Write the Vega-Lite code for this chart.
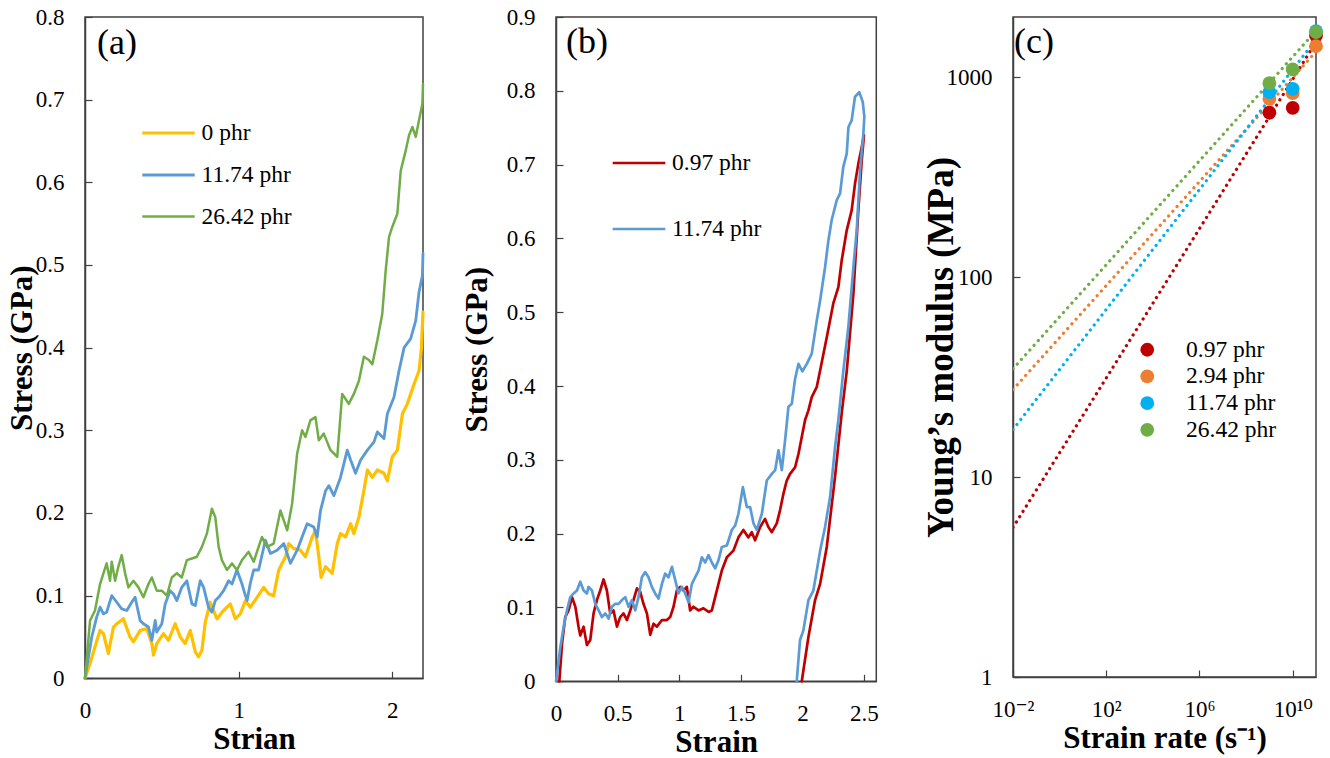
{
  "$schema": "https://vega.github.io/schema/vega-lite/v6.json",
  "background": "white",
  "padding": {"left": 5, "top": 5, "right": 5, "bottom": 5},
  "config": {
    "font": "Liberation Serif",
    "view": {"stroke": "#404040", "strokeWidth": 1.5},
    "axis": {"grid": false, "domainColor": "#404040", "domainWidth": 1.5, "tickColor": "#404040", "tickWidth": 1.2, "tickSize": -7, "labelFont": "Liberation Serif", "labelFontSize": 23, "labelColor": "#000", "labelPadding": 28, "labelFlush": false, "labelOverlap": false, "titleFont": "Liberation Serif", "titleFontSize": 31, "titleFontWeight": "bold", "titleColor": "#000"},
    "axisX": {"titlePadding": 2},
    "legend": {"labelFont": "Liberation Serif", "labelFontSize": 23.5, "labelColor": "#000"},
    "title": {"font": "Liberation Serif", "fontSize": 36, "fontWeight": "normal", "anchor": "start", "color": "#000", "baseline": "middle", "frame": "group"}
  },
  "datasets": {
    "a": [
      {"s":"0 phr","x":0,"y":0},{"s":"0 phr","x":0.033,"y":0.018},{"s":"0 phr","x":0.076,"y":0.045},{"s":"0 phr","x":0.098,"y":0.058},{"s":"0 phr","x":0.12,"y":0.054},{"s":"0 phr","x":0.152,"y":0.03},{"s":"0 phr","x":0.185,"y":0.062},{"s":"0 phr","x":0.207,"y":0.066},{"s":"0 phr","x":0.25,"y":0.072},{"s":"0 phr","x":0.293,"y":0.05},{"s":"0 phr","x":0.315,"y":0.044},{"s":"0 phr","x":0.359,"y":0.058},{"s":"0 phr","x":0.402,"y":0.06},{"s":"0 phr","x":0.435,"y":0.042},{"s":"0 phr","x":0.446,"y":0.028},{"s":"0 phr","x":0.467,"y":0.042},{"s":"0 phr","x":0.511,"y":0.054},{"s":"0 phr","x":0.543,"y":0.046},{"s":"0 phr","x":0.587,"y":0.066},{"s":"0 phr","x":0.62,"y":0.05},{"s":"0 phr","x":0.652,"y":0.042},{"s":"0 phr","x":0.685,"y":0.058},{"s":"0 phr","x":0.718,"y":0.032},{"s":"0 phr","x":0.739,"y":0.026},{"s":"0 phr","x":0.761,"y":0.034},{"s":"0 phr","x":0.783,"y":0.068},{"s":"0 phr","x":0.815,"y":0.092},{"s":"0 phr","x":0.859,"y":0.072},{"s":"0 phr","x":0.902,"y":0.082},{"s":"0 phr","x":0.946,"y":0.09},{"s":"0 phr","x":0.978,"y":0.072},{"s":"0 phr","x":1.011,"y":0.078},{"s":"0 phr","x":1.044,"y":0.094},{"s":"0 phr","x":1.076,"y":0.086},{"s":"0 phr","x":1.12,"y":0.098},{"s":"0 phr","x":1.163,"y":0.11},{"s":"0 phr","x":1.196,"y":0.102},{"s":"0 phr","x":1.228,"y":0.1},{"s":"0 phr","x":1.261,"y":0.131},{"s":"0 phr","x":1.305,"y":0.147},{"s":"0 phr","x":1.326,"y":0.163},{"s":"0 phr","x":1.359,"y":0.157},{"s":"0 phr","x":1.402,"y":0.155},{"s":"0 phr","x":1.435,"y":0.147},{"s":"0 phr","x":1.479,"y":0.171},{"s":"0 phr","x":1.5,"y":0.179},{"s":"0 phr","x":1.522,"y":0.147},{"s":"0 phr","x":1.537,"y":0.122},{"s":"0 phr","x":1.566,"y":0.135},{"s":"0 phr","x":1.609,"y":0.127},{"s":"0 phr","x":1.642,"y":0.163},{"s":"0 phr","x":1.663,"y":0.175},{"s":"0 phr","x":1.696,"y":0.171},{"s":"0 phr","x":1.729,"y":0.187},{"s":"0 phr","x":1.75,"y":0.175},{"s":"0 phr","x":1.783,"y":0.195},{"s":"0 phr","x":1.815,"y":0.227},{"s":"0 phr","x":1.838,"y":0.252},{"s":"0 phr","x":1.87,"y":0.243},{"s":"0 phr","x":1.903,"y":0.252},{"s":"0 phr","x":1.946,"y":0.248},{"s":"0 phr","x":1.968,"y":0.239},{"s":"0 phr","x":2.0,"y":0.268},{"s":"0 phr","x":2.033,"y":0.276},{"s":"0 phr","x":2.066,"y":0.32},{"s":"0 phr","x":2.098,"y":0.332},{"s":"0 phr","x":2.142,"y":0.356},{"s":"0 phr","x":2.174,"y":0.372},{"s":"0 phr","x":2.19,"y":0.4},{"s":"0 phr","x":2.2,"y":0.443},
      {"s":"11.74 phr","x":0,"y":0},{"s":"11.74 phr","x":0.044,"y":0.05},{"s":"11.74 phr","x":0.076,"y":0.074},{"s":"11.74 phr","x":0.098,"y":0.086},{"s":"11.74 phr","x":0.12,"y":0.078},{"s":"11.74 phr","x":0.141,"y":0.08},{"s":"11.74 phr","x":0.174,"y":0.1},{"s":"11.74 phr","x":0.207,"y":0.092},{"s":"11.74 phr","x":0.239,"y":0.084},{"s":"11.74 phr","x":0.272,"y":0.082},{"s":"11.74 phr","x":0.304,"y":0.092},{"s":"11.74 phr","x":0.326,"y":0.098},{"s":"11.74 phr","x":0.359,"y":0.07},{"s":"11.74 phr","x":0.38,"y":0.066},{"s":"11.74 phr","x":0.413,"y":0.062},{"s":"11.74 phr","x":0.435,"y":0.046},{"s":"11.74 phr","x":0.457,"y":0.07},{"s":"11.74 phr","x":0.467,"y":0.056},{"s":"11.74 phr","x":0.5,"y":0.066},{"s":"11.74 phr","x":0.522,"y":0.09},{"s":"11.74 phr","x":0.554,"y":0.106},{"s":"11.74 phr","x":0.576,"y":0.102},{"s":"11.74 phr","x":0.598,"y":0.094},{"s":"11.74 phr","x":0.63,"y":0.11},{"s":"11.74 phr","x":0.663,"y":0.118},{"s":"11.74 phr","x":0.696,"y":0.09},{"s":"11.74 phr","x":0.718,"y":0.088},{"s":"11.74 phr","x":0.75,"y":0.118},{"s":"11.74 phr","x":0.772,"y":0.11},{"s":"11.74 phr","x":0.804,"y":0.086},{"s":"11.74 phr","x":0.826,"y":0.08},{"s":"11.74 phr","x":0.848,"y":0.094},{"s":"11.74 phr","x":0.87,"y":0.098},{"s":"11.74 phr","x":0.902,"y":0.106},{"s":"11.74 phr","x":0.935,"y":0.118},{"s":"11.74 phr","x":0.957,"y":0.114},{"s":"11.74 phr","x":0.989,"y":0.131},{"s":"11.74 phr","x":1.022,"y":0.114},{"s":"11.74 phr","x":1.044,"y":0.1},{"s":"11.74 phr","x":1.055,"y":0.094},{"s":"11.74 phr","x":1.076,"y":0.115},{"s":"11.74 phr","x":1.098,"y":0.131},{"s":"11.74 phr","x":1.13,"y":0.131},{"s":"11.74 phr","x":1.174,"y":0.167},{"s":"11.74 phr","x":1.207,"y":0.151},{"s":"11.74 phr","x":1.25,"y":0.155},{"s":"11.74 phr","x":1.294,"y":0.163},{"s":"11.74 phr","x":1.337,"y":0.139},{"s":"11.74 phr","x":1.381,"y":0.155},{"s":"11.74 phr","x":1.413,"y":0.171},{"s":"11.74 phr","x":1.446,"y":0.187},{"s":"11.74 phr","x":1.489,"y":0.183},{"s":"11.74 phr","x":1.511,"y":0.171},{"s":"11.74 phr","x":1.533,"y":0.203},{"s":"11.74 phr","x":1.566,"y":0.227},{"s":"11.74 phr","x":1.587,"y":0.233},{"s":"11.74 phr","x":1.62,"y":0.221},{"s":"11.74 phr","x":1.663,"y":0.243},{"s":"11.74 phr","x":1.707,"y":0.276},{"s":"11.74 phr","x":1.729,"y":0.264},{"s":"11.74 phr","x":1.761,"y":0.248},{"s":"11.74 phr","x":1.794,"y":0.264},{"s":"11.74 phr","x":1.838,"y":0.276},{"s":"11.74 phr","x":1.881,"y":0.286},{"s":"11.74 phr","x":1.903,"y":0.298},{"s":"11.74 phr","x":1.946,"y":0.29},{"s":"11.74 phr","x":1.968,"y":0.32},{"s":"11.74 phr","x":2.011,"y":0.34},{"s":"11.74 phr","x":2.044,"y":0.372},{"s":"11.74 phr","x":2.077,"y":0.4},{"s":"11.74 phr","x":2.12,"y":0.411},{"s":"11.74 phr","x":2.153,"y":0.433},{"s":"11.74 phr","x":2.174,"y":0.467},{"s":"11.74 phr","x":2.196,"y":0.487},{"s":"11.74 phr","x":2.2,"y":0.514},
      {"s":"26.42 phr","x":0,"y":0},{"s":"26.42 phr","x":0.033,"y":0.07},{"s":"26.42 phr","x":0.065,"y":0.082},{"s":"26.42 phr","x":0.098,"y":0.114},{"s":"26.42 phr","x":0.12,"y":0.127},{"s":"26.42 phr","x":0.141,"y":0.139},{"s":"26.42 phr","x":0.163,"y":0.118},{"s":"26.42 phr","x":0.174,"y":0.141},{"s":"26.42 phr","x":0.196,"y":0.118},{"s":"26.42 phr","x":0.217,"y":0.135},{"s":"26.42 phr","x":0.239,"y":0.149},{"s":"26.42 phr","x":0.261,"y":0.127},{"s":"26.42 phr","x":0.283,"y":0.11},{"s":"26.42 phr","x":0.315,"y":0.118},{"s":"26.42 phr","x":0.348,"y":0.11},{"s":"26.42 phr","x":0.38,"y":0.098},{"s":"26.42 phr","x":0.413,"y":0.114},{"s":"26.42 phr","x":0.435,"y":0.122},{"s":"26.42 phr","x":0.467,"y":0.106},{"s":"26.42 phr","x":0.5,"y":0.106},{"s":"26.42 phr","x":0.533,"y":0.1},{"s":"26.42 phr","x":0.565,"y":0.122},{"s":"26.42 phr","x":0.598,"y":0.127},{"s":"26.42 phr","x":0.63,"y":0.122},{"s":"26.42 phr","x":0.663,"y":0.143},{"s":"26.42 phr","x":0.696,"y":0.145},{"s":"26.42 phr","x":0.728,"y":0.147},{"s":"26.42 phr","x":0.761,"y":0.159},{"s":"26.42 phr","x":0.793,"y":0.175},{"s":"26.42 phr","x":0.826,"y":0.205},{"s":"26.42 phr","x":0.848,"y":0.195},{"s":"26.42 phr","x":0.87,"y":0.159},{"s":"26.42 phr","x":0.891,"y":0.143},{"s":"26.42 phr","x":0.924,"y":0.131},{"s":"26.42 phr","x":0.957,"y":0.139},{"s":"26.42 phr","x":0.989,"y":0.131},{"s":"26.42 phr","x":1.022,"y":0.143},{"s":"26.42 phr","x":1.065,"y":0.153},{"s":"26.42 phr","x":1.098,"y":0.141},{"s":"26.42 phr","x":1.13,"y":0.159},{"s":"26.42 phr","x":1.152,"y":0.171},{"s":"26.42 phr","x":1.185,"y":0.159},{"s":"26.42 phr","x":1.228,"y":0.163},{"s":"26.42 phr","x":1.272,"y":0.203},{"s":"26.42 phr","x":1.316,"y":0.179},{"s":"26.42 phr","x":1.348,"y":0.211},{"s":"26.42 phr","x":1.381,"y":0.272},{"s":"26.42 phr","x":1.413,"y":0.3},{"s":"26.42 phr","x":1.435,"y":0.292},{"s":"26.42 phr","x":1.467,"y":0.312},{"s":"26.42 phr","x":1.5,"y":0.316},{"s":"26.42 phr","x":1.522,"y":0.288},{"s":"26.42 phr","x":1.554,"y":0.296},{"s":"26.42 phr","x":1.598,"y":0.276},{"s":"26.42 phr","x":1.642,"y":0.268},{"s":"26.42 phr","x":1.674,"y":0.344},{"s":"26.42 phr","x":1.717,"y":0.332},{"s":"26.42 phr","x":1.75,"y":0.344},{"s":"26.42 phr","x":1.783,"y":0.36},{"s":"26.42 phr","x":1.815,"y":0.389},{"s":"26.42 phr","x":1.848,"y":0.385},{"s":"26.42 phr","x":1.87,"y":0.38},{"s":"26.42 phr","x":1.903,"y":0.409},{"s":"26.42 phr","x":1.935,"y":0.441},{"s":"26.42 phr","x":1.957,"y":0.493},{"s":"26.42 phr","x":1.979,"y":0.534},{"s":"26.42 phr","x":2.0,"y":0.546},{"s":"26.42 phr","x":2.033,"y":0.562},{"s":"26.42 phr","x":2.055,"y":0.614},{"s":"26.42 phr","x":2.087,"y":0.638},{"s":"26.42 phr","x":2.109,"y":0.657},{"s":"26.42 phr","x":2.131,"y":0.667},{"s":"26.42 phr","x":2.153,"y":0.655},{"s":"26.42 phr","x":2.174,"y":0.675},{"s":"26.42 phr","x":2.196,"y":0.695},{"s":"26.42 phr","x":2.2,"y":0.719}
    ],
    "b": [
      {"s":"0.97 phr","i":0,"x":0.027,"y":0},{"s":"0.97 phr","i":1,"x":0.049,"y":0.051},{"s":"0.97 phr","i":2,"x":0.075,"y":0.087},{"s":"0.97 phr","i":3,"x":0.102,"y":0.096},{"s":"0.97 phr","i":4,"x":0.13,"y":0.114},{"s":"0.97 phr","i":5,"x":0.157,"y":0.101},{"s":"0.97 phr","i":6,"x":0.183,"y":0.074},{"s":"0.97 phr","i":7,"x":0.197,"y":0.062},{"s":"0.97 phr","i":8,"x":0.224,"y":0.074},{"s":"0.97 phr","i":9,"x":0.251,"y":0.049},{"s":"0.97 phr","i":10,"x":0.278,"y":0.056},{"s":"0.97 phr","i":11,"x":0.305,"y":0.092},{"s":"0.97 phr","i":12,"x":0.332,"y":0.11},{"s":"0.97 phr","i":13,"x":0.359,"y":0.123},{"s":"0.97 phr","i":14,"x":0.386,"y":0.138},{"s":"0.97 phr","i":15,"x":0.413,"y":0.123},{"s":"0.97 phr","i":16,"x":0.44,"y":0.092},{"s":"0.97 phr","i":17,"x":0.467,"y":0.096},{"s":"0.97 phr","i":18,"x":0.495,"y":0.074},{"s":"0.97 phr","i":19,"x":0.521,"y":0.087},{"s":"0.97 phr","i":20,"x":0.548,"y":0.092},{"s":"0.97 phr","i":21,"x":0.576,"y":0.083},{"s":"0.97 phr","i":22,"x":0.603,"y":0.096},{"s":"0.97 phr","i":23,"x":0.629,"y":0.11},{"s":"0.97 phr","i":24,"x":0.657,"y":0.126},{"s":"0.97 phr","i":25,"x":0.684,"y":0.121},{"s":"0.97 phr","i":26,"x":0.71,"y":0.105},{"s":"0.97 phr","i":27,"x":0.738,"y":0.092},{"s":"0.97 phr","i":28,"x":0.765,"y":0.063},{"s":"0.97 phr","i":29,"x":0.792,"y":0.078},{"s":"0.97 phr","i":30,"x":0.819,"y":0.074},{"s":"0.97 phr","i":31,"x":0.86,"y":0.083},{"s":"0.97 phr","i":32,"x":0.9,"y":0.083},{"s":"0.97 phr","i":33,"x":0.927,"y":0.087},{"s":"0.97 phr","i":34,"x":0.954,"y":0.101},{"s":"0.97 phr","i":35,"x":0.981,"y":0.123},{"s":"0.97 phr","i":36,"x":1.008,"y":0.128},{"s":"0.97 phr","i":37,"x":1.035,"y":0.123},{"s":"0.97 phr","i":38,"x":1.062,"y":0.128},{"s":"0.97 phr","i":39,"x":1.089,"y":0.096},{"s":"0.97 phr","i":40,"x":1.116,"y":0.101},{"s":"0.97 phr","i":41,"x":1.157,"y":0.096},{"s":"0.97 phr","i":42,"x":1.197,"y":0.099},{"s":"0.97 phr","i":43,"x":1.238,"y":0.094},{"s":"0.97 phr","i":44,"x":1.265,"y":0.096},{"s":"0.97 phr","i":45,"x":1.292,"y":0.114},{"s":"0.97 phr","i":46,"x":1.319,"y":0.132},{"s":"0.97 phr","i":47,"x":1.346,"y":0.15},{"s":"0.97 phr","i":48,"x":1.387,"y":0.168},{"s":"0.97 phr","i":49,"x":1.44,"y":0.177},{"s":"0.97 phr","i":50,"x":1.481,"y":0.195},{"s":"0.97 phr","i":51,"x":1.521,"y":0.205},{"s":"0.97 phr","i":52,"x":1.562,"y":0.195},{"s":"0.97 phr","i":53,"x":1.589,"y":0.202},{"s":"0.97 phr","i":54,"x":1.616,"y":0.191},{"s":"0.97 phr","i":55,"x":1.657,"y":0.209},{"s":"0.97 phr","i":56,"x":1.697,"y":0.22},{"s":"0.97 phr","i":57,"x":1.724,"y":0.209},{"s":"0.97 phr","i":58,"x":1.752,"y":0.202},{"s":"0.97 phr","i":59,"x":1.792,"y":0.214},{"s":"0.97 phr","i":60,"x":1.819,"y":0.232},{"s":"0.97 phr","i":61,"x":1.846,"y":0.254},{"s":"0.97 phr","i":62,"x":1.873,"y":0.272},{"s":"0.97 phr","i":63,"x":1.9,"y":0.281},{"s":"0.97 phr","i":64,"x":1.941,"y":0.29},{"s":"0.97 phr","i":65,"x":1.968,"y":0.308},{"s":"0.97 phr","i":66,"x":1.995,"y":0.331},{"s":"0.97 phr","i":67,"x":2.022,"y":0.354},{"s":"0.97 phr","i":68,"x":2.049,"y":0.367},{"s":"0.97 phr","i":69,"x":2.076,"y":0.385},{"s":"0.97 phr","i":70,"x":2.117,"y":0.399},{"s":"0.97 phr","i":71,"x":2.144,"y":0.421},{"s":"0.97 phr","i":72,"x":2.198,"y":0.466},{"s":"0.97 phr","i":73,"x":2.251,"y":0.512},{"s":"0.97 phr","i":74,"x":2.292,"y":0.534},{"s":"0.97 phr","i":75,"x":2.319,"y":0.57},{"s":"0.97 phr","i":76,"x":2.36,"y":0.611},{"s":"0.97 phr","i":77,"x":2.4,"y":0.638},{"s":"0.97 phr","i":78,"x":2.427,"y":0.674},{"s":"0.97 phr","i":79,"x":2.454,"y":0.701},{"s":"0.97 phr","i":80,"x":2.482,"y":0.724},{"s":"0.97 phr","i":81,"x":2.5,"y":0.74},{"s":"0.97 phr","i":82,"x":2.482,"y":0.706},{"s":"0.97 phr","i":83,"x":2.454,"y":0.638},{"s":"0.97 phr","i":84,"x":2.414,"y":0.525},{"s":"0.97 phr","i":85,"x":2.36,"y":0.42},{"s":"0.97 phr","i":86,"x":2.319,"y":0.363},{"s":"0.97 phr","i":87,"x":2.265,"y":0.277},{"s":"0.97 phr","i":88,"x":2.198,"y":0.182},{"s":"0.97 phr","i":89,"x":2.144,"y":0.132},{"s":"0.97 phr","i":90,"x":2.103,"y":0.11},{"s":"0.97 phr","i":91,"x":2.049,"y":0.06},{"s":"0.97 phr","i":92,"x":1.995,"y":0},
      {"s":"11.74 phr","i":0,"x":0,"y":0},{"s":"11.74 phr","i":1,"x":0.035,"y":0.046},{"s":"11.74 phr","i":2,"x":0.062,"y":0.074},{"s":"11.74 phr","i":3,"x":0.089,"y":0.096},{"s":"11.74 phr","i":4,"x":0.116,"y":0.114},{"s":"11.74 phr","i":5,"x":0.143,"y":0.119},{"s":"11.74 phr","i":6,"x":0.17,"y":0.123},{"s":"11.74 phr","i":7,"x":0.197,"y":0.135},{"s":"11.74 phr","i":8,"x":0.224,"y":0.123},{"s":"11.74 phr","i":9,"x":0.251,"y":0.119},{"s":"11.74 phr","i":10,"x":0.264,"y":0.128},{"s":"11.74 phr","i":11,"x":0.292,"y":0.123},{"s":"11.74 phr","i":12,"x":0.319,"y":0.105},{"s":"11.74 phr","i":13,"x":0.346,"y":0.096},{"s":"11.74 phr","i":14,"x":0.373,"y":0.087},{"s":"11.74 phr","i":15,"x":0.4,"y":0.092},{"s":"11.74 phr","i":16,"x":0.427,"y":0.085},{"s":"11.74 phr","i":17,"x":0.454,"y":0.101},{"s":"11.74 phr","i":18,"x":0.481,"y":0.105},{"s":"11.74 phr","i":19,"x":0.508,"y":0.105},{"s":"11.74 phr","i":20,"x":0.535,"y":0.11},{"s":"11.74 phr","i":21,"x":0.562,"y":0.114},{"s":"11.74 phr","i":22,"x":0.589,"y":0.101},{"s":"11.74 phr","i":23,"x":0.616,"y":0.11},{"s":"11.74 phr","i":24,"x":0.643,"y":0.096},{"s":"11.74 phr","i":25,"x":0.67,"y":0.114},{"s":"11.74 phr","i":26,"x":0.697,"y":0.141},{"s":"11.74 phr","i":27,"x":0.724,"y":0.148},{"s":"11.74 phr","i":28,"x":0.751,"y":0.141},{"s":"11.74 phr","i":29,"x":0.778,"y":0.128},{"s":"11.74 phr","i":30,"x":0.805,"y":0.119},{"s":"11.74 phr","i":31,"x":0.832,"y":0.112},{"s":"11.74 phr","i":32,"x":0.86,"y":0.132},{"s":"11.74 phr","i":33,"x":0.886,"y":0.146},{"s":"11.74 phr","i":34,"x":0.913,"y":0.141},{"s":"11.74 phr","i":35,"x":0.941,"y":0.155},{"s":"11.74 phr","i":36,"x":0.968,"y":0.137},{"s":"11.74 phr","i":37,"x":0.994,"y":0.119},{"s":"11.74 phr","i":38,"x":1.022,"y":0.128},{"s":"11.74 phr","i":39,"x":1.049,"y":0.119},{"s":"11.74 phr","i":40,"x":1.076,"y":0.107},{"s":"11.74 phr","i":41,"x":1.103,"y":0.132},{"s":"11.74 phr","i":42,"x":1.13,"y":0.141},{"s":"11.74 phr","i":43,"x":1.157,"y":0.15},{"s":"11.74 phr","i":44,"x":1.184,"y":0.168},{"s":"11.74 phr","i":45,"x":1.211,"y":0.161},{"s":"11.74 phr","i":46,"x":1.238,"y":0.171},{"s":"11.74 phr","i":47,"x":1.265,"y":0.161},{"s":"11.74 phr","i":48,"x":1.292,"y":0.153},{"s":"11.74 phr","i":49,"x":1.319,"y":0.164},{"s":"11.74 phr","i":50,"x":1.346,"y":0.182},{"s":"11.74 phr","i":51,"x":1.387,"y":0.184},{"s":"11.74 phr","i":52,"x":1.427,"y":0.205},{"s":"11.74 phr","i":53,"x":1.454,"y":0.211},{"s":"11.74 phr","i":54,"x":1.481,"y":0.227},{"s":"11.74 phr","i":55,"x":1.517,"y":0.263},{"s":"11.74 phr","i":56,"x":1.549,"y":0.236},{"s":"11.74 phr","i":57,"x":1.576,"y":0.236},{"s":"11.74 phr","i":58,"x":1.603,"y":0.214},{"s":"11.74 phr","i":59,"x":1.63,"y":0.205},{"s":"11.74 phr","i":60,"x":1.671,"y":0.227},{"s":"11.74 phr","i":61,"x":1.711,"y":0.272},{"s":"11.74 phr","i":62,"x":1.752,"y":0.281},{"s":"11.74 phr","i":63,"x":1.779,"y":0.286},{"s":"11.74 phr","i":64,"x":1.806,"y":0.313},{"s":"11.74 phr","i":65,"x":1.833,"y":0.286},{"s":"11.74 phr","i":66,"x":1.86,"y":0.327},{"s":"11.74 phr","i":67,"x":1.887,"y":0.372},{"s":"11.74 phr","i":68,"x":1.914,"y":0.376},{"s":"11.74 phr","i":69,"x":1.941,"y":0.41},{"s":"11.74 phr","i":70,"x":1.968,"y":0.43},{"s":"11.74 phr","i":71,"x":2.0,"y":0.42},{"s":"11.74 phr","i":72,"x":2.036,"y":0.43},{"s":"11.74 phr","i":73,"x":2.076,"y":0.444},{"s":"11.74 phr","i":74,"x":2.117,"y":0.489},{"s":"11.74 phr","i":75,"x":2.144,"y":0.516},{"s":"11.74 phr","i":76,"x":2.184,"y":0.561},{"s":"11.74 phr","i":77,"x":2.211,"y":0.597},{"s":"11.74 phr","i":78,"x":2.238,"y":0.625},{"s":"11.74 phr","i":79,"x":2.279,"y":0.652},{"s":"11.74 phr","i":80,"x":2.306,"y":0.661},{"s":"11.74 phr","i":81,"x":2.332,"y":0.697},{"s":"11.74 phr","i":82,"x":2.36,"y":0.715},{"s":"11.74 phr","i":83,"x":2.374,"y":0.751},{"s":"11.74 phr","i":84,"x":2.4,"y":0.76},{"s":"11.74 phr","i":85,"x":2.427,"y":0.792},{"s":"11.74 phr","i":86,"x":2.462,"y":0.798},{"s":"11.74 phr","i":87,"x":2.49,"y":0.785},{"s":"11.74 phr","i":88,"x":2.503,"y":0.765},{"s":"11.74 phr","i":89,"x":2.495,"y":0.742},{"s":"11.74 phr","i":90,"x":2.468,"y":0.692},{"s":"11.74 phr","i":91,"x":2.441,"y":0.611},{"s":"11.74 phr","i":92,"x":2.414,"y":0.561},{"s":"11.74 phr","i":93,"x":2.373,"y":0.48},{"s":"11.74 phr","i":94,"x":2.332,"y":0.42},{"s":"11.74 phr","i":95,"x":2.292,"y":0.354},{"s":"11.74 phr","i":96,"x":2.265,"y":0.317},{"s":"11.74 phr","i":97,"x":2.225,"y":0.25},{"s":"11.74 phr","i":98,"x":2.184,"y":0.209},{"s":"11.74 phr","i":99,"x":2.144,"y":0.177},{"s":"11.74 phr","i":100,"x":2.117,"y":0.15},{"s":"11.74 phr","i":101,"x":2.089,"y":0.123},{"s":"11.74 phr","i":102,"x":2.049,"y":0.11},{"s":"11.74 phr","i":103,"x":2.008,"y":0.069},{"s":"11.74 phr","i":104,"x":1.981,"y":0.056},{"s":"11.74 phr","i":105,"x":1.954,"y":0}
    ],
    "cfit": [
      {"s":"0.97 phr","x":0.01,"y":5.6},{"s":"0.97 phr","x":1e11,"y":1500},
      {"s":"2.94 phr","x":0.01,"y":27.4},{"s":"2.94 phr","x":1e11,"y":1343},
      {"s":"11.74 phr","x":0.01,"y":17.3},{"s":"11.74 phr","x":1e11,"y":1542},
      {"s":"26.42 phr","x":0.01,"y":34.8},{"s":"26.42 phr","x":1e11,"y":1706}
    ],
    "cpts": [
      {"s":"0.97 phr","x":1e9,"y":664},{"s":"0.97 phr","x":1e10,"y":703},{"s":"0.97 phr","x":1e11,"y":1616},
      {"s":"2.94 phr","x":1e9,"y":780},{"s":"2.94 phr","x":1e10,"y":832},{"s":"2.94 phr","x":1e11,"y":1429},
      {"s":"11.74 phr","x":1e9,"y":841},{"s":"11.74 phr","x":1e10,"y":875},{"s":"11.74 phr","x":1e11,"y":1698},
      {"s":"26.42 phr","x":1e9,"y":933},{"s":"26.42 phr","x":1e10,"y":1093},{"s":"26.42 phr","x":1e11,"y":1679}
    ]
  },
  "bounds": "flush",
  "spacing": 133,
  "resolve": {"scale": {"color": "independent", "x": "independent", "y": "independent", "strokeWidth": "independent", "fill": "independent", "stroke": "independent"}, "legend": {"color": "independent", "strokeWidth": "independent", "fill": "independent", "stroke": "independent"}},
  "hconcat": [
    {
      "width": 338, "height": 661.3,
      "title": {"text": "(a)", "offset": -56, "dx": 12},
      "data": {"name": "a"},
      "mark": {"type": "line", "strokeJoin": "round", "strokeCap": "round"},
      "encoding": {
        "x": {"field": "x", "type": "quantitative", "scale": {"domain": [0, 2.2], "nice": false}, "axis": {"values": [0, 1, 2], "title": "Strian"}},
        "y": {"field": "y", "type": "quantitative", "scale": {"domain": [0, 0.8], "nice": false}, "axis": {"values": [0, 0.1, 0.2, 0.3, 0.4, 0.5, 0.6, 0.7, 0.8], "format": ".1~f", "title": "Stress (GPa)", "titlePadding": -3}},
        "color": {"field": "s", "type": "ordinal", "scale": {"domain": ["0 phr", "11.74 phr", "26.42 phr"], "range": ["#FFC000", "#5B9BD5", "#70AD47"]}, "legend": {"title": null, "orient": "none", "legendX": 55.5, "legendY": 88, "symbolType": "stroke", "symbolSize": 2750, "labelOffset": 5, "rowPadding": 2}},
        "strokeWidth": {"field": "s", "type": "ordinal", "scale": {"domain": ["0 phr", "11.74 phr", "26.42 phr"], "range": [3.2, 2.5, 2.2]}, "legend": {"title": null, "orient": "none", "legendX": 55.5, "legendY": 88, "symbolType": "stroke", "symbolSize": 2750, "labelOffset": 5, "rowPadding": 2}}
      }
    },
    {
      "bounds": "flush",
      "spacing": 136,
      "resolve": {"scale": {"color": "independent", "x": "independent", "y": "independent", "fill": "independent", "stroke": "independent"}, "legend": {"color": "independent", "fill": "independent", "stroke": "independent"}},
      "hconcat": [
        {
          "width": 320.3, "height": 664.3,
          "title": {"text": "(b)", "offset": -55, "dx": 10},
          "data": {"name": "b"},
          "mark": {"type": "line", "strokeJoin": "round", "strokeCap": "round", "strokeWidth": 2.7},
          "encoding": {
            "x": {"field": "x", "type": "quantitative", "scale": {"domain": [0, 2.6], "nice": false}, "axis": {"values": [0, 0.5, 1, 1.5, 2, 2.5], "format": "~g", "title": "Strain"}},
            "y": {"field": "y", "type": "quantitative", "scale": {"domain": [0, 0.9], "nice": false}, "axis": {"values": [0, 0.1, 0.2, 0.3, 0.4, 0.5, 0.6, 0.7, 0.8, 0.9], "format": ".1~f", "title": "Stress (GPa)", "titlePadding": 12.4}},
            "order": {"field": "i", "type": "quantitative"},
            "color": {"field": "s", "type": "nominal", "scale": {"domain": ["0.97 phr", "11.74 phr"], "range": ["#C00000", "#5B9BD5"]}, "legend": {"title": null, "orient": "none", "legendX": 55, "legendY": 118, "symbolType": "stroke", "symbolSize": 2770, "symbolStrokeWidth": 2.7, "labelOffset": 5, "rowPadding": 26}}
          }
        },
        {
          "width": 303, "height": 660,
          "title": {"text": "(c)", "offset": -44, "dx": 1},
          "layer": [
            {
              "data": {"name": "cfit"},
              "mark": {"type": "line", "strokeDash": [0.1, 6.2], "strokeCap": "round", "strokeWidth": 3.2, "clip": true},
              "encoding": {
                "x": {"field": "x", "type": "quantitative", "scale": {"type": "log", "domain": [0.01, 1e11], "nice": false}, "axis": {"values": [0.01, 100, 1000000, 10000000000], "labelFont": "Liberation Serif, DejaVu Serif", "labelExpr": "datum.value < 1 ? '10⁻²' : datum.value < 1000 ? '10²' : datum.value < 100000000 ? '10⁶' : '10¹⁰'", "title": "Strain rate (s⁻¹)"}},
                "y": {"field": "y", "type": "quantitative", "scale": {"type": "log", "domain": [1, 2000], "nice": false}, "axis": {"values": [1, 10, 100, 1000], "format": "d", "title": "Young’s modulus (MPa)", "titleFontSize": 37, "titlePadding": -14}},
                "stroke": {"field": "s", "type": "nominal", "scale": {"domain": ["0.97 phr", "2.94 phr", "11.74 phr", "26.42 phr"], "range": ["#C00000", "#ED7D31", "#00B0F0", "#70AD47"]}, "legend": {"title": null, "orient": "none", "legendX": 122.5, "legendY": 321, "symbolType": "circle", "symbolSize": 190, "symbolOpacity": 1, "symbolStrokeWidth": 0, "symbolDash": [], "labelOffset": 27, "rowPadding": 1.7}}
              }
            },
            {
              "data": {"name": "cpts"},
              "mark": {"type": "circle", "size": 190, "opacity": 1, "filled": true},
              "encoding": {
                "x": {"field": "x", "type": "quantitative"},
                "y": {"field": "y", "type": "quantitative"},
                "fill": {"field": "s", "type": "nominal", "scale": {"domain": ["0.97 phr", "2.94 phr", "11.74 phr", "26.42 phr"], "range": ["#C00000", "#ED7D31", "#00B0F0", "#70AD47"]}, "legend": {"title": null, "orient": "none", "legendX": 122.5, "legendY": 321, "symbolType": "circle", "symbolSize": 190, "symbolOpacity": 1, "symbolStrokeWidth": 0, "symbolDash": [], "labelOffset": 27, "rowPadding": 1.7}}
              }
            }
          ]
        }
      ]
    }
  ]
}
